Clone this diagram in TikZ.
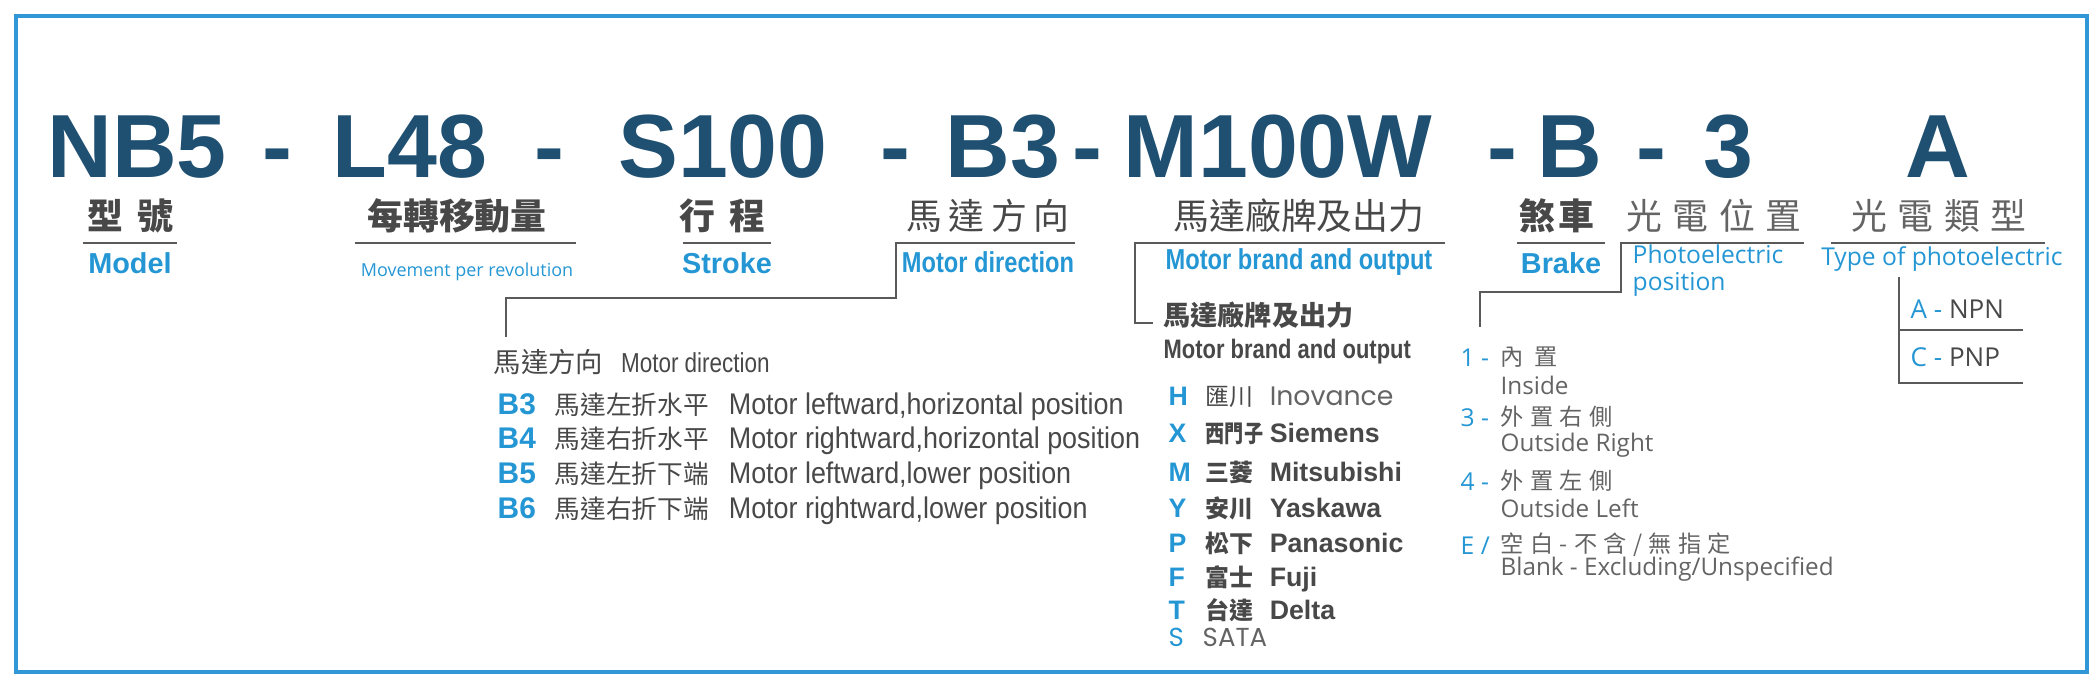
\documentclass[tikz,border=0pt]{standalone}
\usepackage{graphicx}
\usepackage{fontspec}
\setmainfont{Liberation Sans}
\newfontfamily\cjk{Noto Sans CJK TC}
\newfontfamily\opensans{Open Sans}
\newfontfamily\thinsans{Poppins}

\definecolor{codeblue}{RGB}{31,80,113}
\definecolor{keyblue}{RGB}{36,150,212}
\definecolor{frameblue}{RGB}{48,152,214}
\definecolor{darktext}{RGB}{72,72,72}
\definecolor{softtext}{RGB}{100,100,100}
\definecolor{rulegray}{RGB}{90,90,90}

\newcommand{\narrow}[1]{\scalebox{0.82}[1]{#1}}
\newcommand{\ksp}{\hspace{1.8pt}}
\newcommand{\dirrow}[3]{\makebox[0.57cm][l]{\textcolor{keyblue}{\bfseries #1}}\makebox[1.74cm][l]{\cjk\fontsize{7.3}{9}\selectfont #2}\scalebox{0.9}[1]{#3}}
\newcommand{\brandrow}[3]{\makebox[0.37cm][l]{\textcolor{keyblue}{\bfseries #1}}\makebox[0.64cm][l]{\cjk\bfseries\fontsize{6.8}{8}\selectfont #2}#3}

\tikzset{
  outerframe/.style={draw=frameblue, line width=1pt},
  rulestroke/.style={draw=rulegray, line width=0.65pt},
  codepart/.style={font=\bfseries\fontsize{25.5}{30}\selectfont, text=codeblue, anchor=base},
  cnbold/.style={font=\cjk\bfseries\fontsize{10.2}{12}\selectfont, text=darktext},
  cnhead/.style={font=\cjk\fontsize{10.2}{12}\selectfont, text=darktext},
  cnlight/.style={font=\cjk\fontsize{10.2}{12}\selectfont, text=softtext},
  enbold/.style={font=\bfseries\fontsize{8.2}{10}\selectfont, text=keyblue, anchor=base},
  enlight/.style={font=\opensans\fontsize{7}{9}\selectfont, text=keyblue, anchor=base},
  listhead/.style={font=\fontsize{7.8}{9}\selectfont, text=darktext, anchor=base west},
  dirline/.style={font=\fontsize{8.5}{10}\selectfont, text=darktext, anchor=base west},
  brandline/.style={font=\bfseries\fontsize{7.6}{9}\selectfont, text=darktext, anchor=base west},
  numkey/.style={font=\opensans\fontsize{7}{9}\selectfont, text=keyblue, anchor=base west},
  cnlist/.style={font=\cjk\fontsize{6.6}{8}\selectfont, text=softtext, anchor=west},
  enlist/.style={font=\opensans\fontsize{6.9}{9}\selectfont, text=softtext, anchor=base west}
}

\begin{document}
\begin{tikzpicture}[x=0.01cm, y=-0.01cm, inner sep=0pt]
\useasboundingbox (0,0) rectangle (2100,685);
\draw[outerframe] (16,16) rectangle (2087,672);

% code
\node[codepart] (cNB) at (137,178) {NB5};
\node[codepart] (dash1) at (277,178) {-};
\node[codepart] (cL) at (410,178) {L48};
\node[codepart] (dash2) at (549,178) {-};
\node[codepart] (cS) at (723,178) {S100};
\node[codepart] (dash3) at (895,178) {-};
\node[codepart] (cB3) at (1003,178) {B3};
\node[codepart] (dash4) at (1087,178) {-};
\node[codepart] (cM) at (1278,178) {M100W};
\node[codepart] (dash5) at (1502,178) {-};
\node[codepart] (cB) at (1570,178) {B};
\node[codepart] (dash6) at (1651,178) {-};
\node[codepart] (c3) at (1728,178) {3};
\node[codepart] (cA) at (1938,178) {A};

% headings
\node[cnbold] (hModel) at (130,216) {型\hspace{4pt}號};
\node[cnbold] (hLead) at (457,216) {每轉移動量};
\node[cnbold] (hStroke) at (722,216) {行\hspace{4pt}程};
\node[cnhead] (hDir) at (988,216) {馬\ksp 達\ksp 方\ksp 向};
\node[cnhead] (hBrand) at (1299,216) {馬達廠牌及出力};
\node[cnbold] (hBrake) at (1557,216) {煞\hspace{1pt}車};
\node[cnlight] (hPos) at (1714,216) {光\hspace{3pt}電\hspace{3pt}位\hspace{3pt}置};
\node[cnlight] (hType) at (1939,216) {光\hspace{3pt}電\hspace{3pt}類\hspace{3pt}型};

\node[enbold] (eModel) at (130,273) {Model};
\node[enlight, font=\opensans\fontsize{5.1}{6}\selectfont] (eLead) at (467,276) {Movement per revolution};
\node[enbold] (eStroke) at (727,273) {Stroke};
\node[enbold] (eDir) at (988,272) {\narrow{Motor direction}};
\node[enbold] (eBrand) at (1299,270) {\narrow{Motor brand and output}};
\node[enbold] (eBrake) at (1561,273) {Brake};
\node[enlight, anchor=base west] (ePos) at (1632,263) {Photoelectric};
\node[enlight, anchor=base west] (ePos2) at (1632,291) {position};
\node[enlight] (eType) at (1942,265) {Type of photoelectric};

% underlines
\draw[rulestroke] (83,243) -- (177,243);
\draw[rulestroke] (355,243) -- (576,243);
\draw[rulestroke] (683,243) -- (771,243);
\draw[rulestroke] (1517,243) -- (1605,243);
\draw[rulestroke] (1831,243) -- (2045,243);

% brackets
\coordinate (dirTop) at (1075,243);
\coordinate (dirCorner) at (896,243);
\coordinate (dirStep) at (506,298);
\coordinate (dirEnd) at (506,337);
\draw[rulestroke] (dirTop) -- (dirCorner) |- (dirStep) -- (dirEnd);

\coordinate (brandTop) at (1445,243);
\coordinate (brandCorner) at (1135,243);
\coordinate (brandEnd) at (1153,323);
\draw[rulestroke] (brandTop) -- (brandCorner) |- (brandEnd);

\coordinate (posTop) at (1804,243);
\coordinate (posCorner) at (1621,243);
\coordinate (posStep) at (1480,292);
\coordinate (posEnd) at (1480,327);
\draw[rulestroke] (posTop) -- (posCorner) |- (posStep) -- (posEnd);

\coordinate (typeTop) at (1899,277);
\coordinate (typeMid) at (2023,330);
\coordinate (typeEnd) at (2023,383);
\draw[rulestroke] (typeTop) |- (typeEnd);
\draw[rulestroke] (typeTop |- typeMid) -- (typeMid);

% motor direction list
\node[listhead] (dirHead) at (493,372) {{\cjk 馬達方向}\hspace{5pt}\narrow{Motor direction}};
\node[dirline] (rowB3) at (497,414) {\dirrow{B3}{馬達左折水平}{Motor leftward,horizontal position}};
\node[dirline] (rowB4) at (497,448) {\dirrow{B4}{馬達右折水平}{Motor rightward,horizontal position}};
\node[dirline] (rowB5) at (497,483) {\dirrow{B5}{馬達左折下端}{Motor leftward,lower position}};
\node[dirline] (rowB6) at (497,518) {\dirrow{B6}{馬達右折下端}{Motor rightward,lower position}};

% motor brand list
\node[cnbold, font=\cjk\bfseries\fontsize{7.7}{9}\selectfont, anchor=west] (brandHead) at (1163,315) {馬達廠牌及出力};
\node[brandline] (brandSub) at (1163,358) {\narrow{Motor brand and output}};
\node[brandline] (rowH) at (1168,405) {\brandrow{H}{\mdseries 匯川}{\mdseries\thinsans\color{softtext}Inovance}};
\node[brandline] (rowX) at (1168,442) {\brandrow{X}{\scalebox{0.8}[1]{西門子}}{Siemens}};
\node[brandline] (rowM) at (1168,481) {\brandrow{M}{三菱}{Mitsubishi}};
\node[brandline] (rowY) at (1168,517) {\brandrow{Y}{安川}{Yaskawa}};
\node[brandline] (rowP) at (1168,552) {\brandrow{P}{松下}{Panasonic}};
\node[brandline] (rowF) at (1168,586) {\brandrow{F}{富士}{Fuji}};
\node[brandline] (rowT) at (1168,619) {\brandrow{T}{台達}{Delta}};
\node[brandline, font=\thinsans\fontsize{7.4}{9}\selectfont] (rowS) at (1168,646) {\makebox[0.34cm][l]{\textcolor{keyblue}{S}}\textcolor{softtext}{SATA}};

% photoelectric position list
\node[numkey] (n1) at (1460,366) {1 -};
\node[cnlist] (t1) at (1500,357) {內\hspace{3pt}置};
\node[enlist] (s1) at (1500,394) {Inside};
\node[numkey] (n3) at (1460,426) {3 -};
\node[cnlist] (t3) at (1500,417) {外\ksp 置\ksp 右\ksp 側};
\node[enlist] (s3) at (1500,451) {Outside Right};
\node[numkey] (n4) at (1460,490) {4 -};
\node[cnlist] (t4) at (1500,481) {外\ksp 置\ksp 左\ksp 側};
\node[enlist] (s4) at (1500,517) {Outside Left};
\node[numkey] (nE) at (1460,554) {E /};
\node[cnlist] (tE) at (1500,545) {空\ksp 白\ksp -\ksp 不\ksp 含\ksp /\ksp 無\ksp 指\ksp 定};
\node[enlist] (sE) at (1500,575) {Blank - Excluding/Unspecified};

% photoelectric type
\node[numkey, font=\opensans\fontsize{7.4}{9}\selectfont] (tyA) at (1910,318) {A - \textcolor{darktext}{NPN}};
\node[numkey, font=\opensans\fontsize{7.4}{9}\selectfont] (tyC) at (1910,366) {C - \textcolor{darktext}{PNP}};
\end{tikzpicture}
\end{document}
